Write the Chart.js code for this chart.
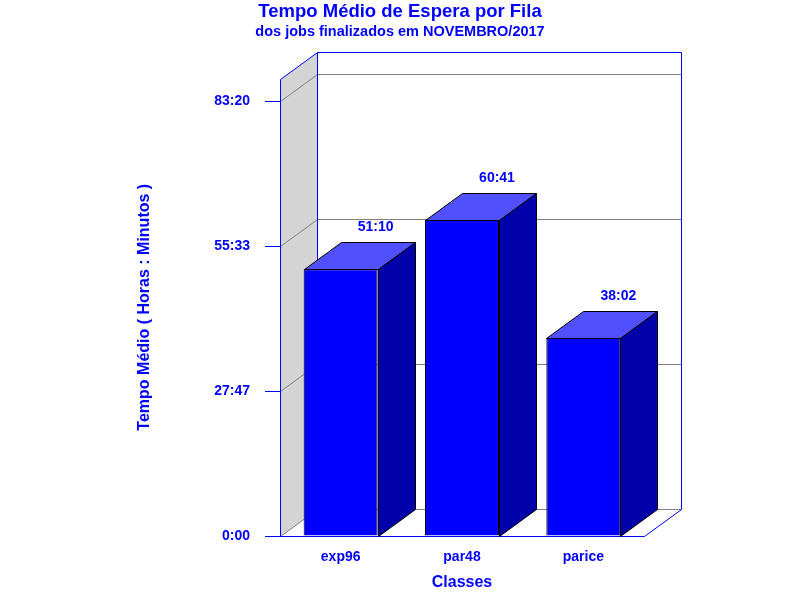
<!DOCTYPE html>
<html lang="pt-BR">
<head>
<meta charset="utf-8">
<title>Tempo Médio de Espera por Fila</title>
<script src="https://cdn.jsdelivr.net/npm/chart.js@4.4.1/dist/chart.umd.min.js"></script>
<style>
    html, body { margin: 0; padding: 0; background: #fff; }
    canvas { display: block; }
</style>
</head>
<body>
<canvas id="filaChart" width="800" height="600"></canvas>
<script>
// Dados do gráfico
const classes = ['exp96', 'par48', 'parice'];
const tempos = ['51:10', '60:41', '38:02'];          // horas:minutos
const yTicks = [0, 5000 / 3, 10000 / 3, 5000];       // minutos
const yMax = 5264;                                   // topo do eixo, minutos

const AZUL = '#0000FF';
const DX = 37, DY = -27;   // profundidade 3D

function toMinutes(hm) {
    const [h, m] = hm.split(':').map(Number);
    return h * 60 + m;
}

function toHoursMinutes(min) {
    const total = Math.round(min);
    return Math.floor(total / 60) + ':' + String(total % 60).padStart(2, '0');
}

function face(ctx, pts, fill) {
    ctx.beginPath();
    ctx.moveTo(pts[0][0], pts[0][1]);
    pts.slice(1).forEach(p => ctx.lineTo(p[0], p[1]));
    ctx.closePath();
    ctx.fillStyle = fill;
    ctx.fill();
    ctx.stroke();
}

// Paredes, grade e faces laterais das barras
const box3d = {
    id: 'box3d',
    beforeDatasetsDraw(chart) {
        const {ctx, chartArea, scales: {y}} = chart;
        const L = Math.round(chartArea.left) + 0.5, R = Math.round(chartArea.right) + 0.5;
        const T = Math.round(chartArea.top) + 0.5, B = Math.round(chartArea.bottom) + 0.5;
        ctx.save();
        ctx.lineWidth = 1;

        // parede esquerda
        ctx.fillStyle = '#D4D4D4';
        ctx.beginPath();
        ctx.moveTo(L, B); ctx.lineTo(L, T); ctx.lineTo(L + DX, T + DY); ctx.lineTo(L + DX, B + DY);
        ctx.closePath();
        ctx.fill();

        // linhas de grade no fundo
        ctx.strokeStyle = '#808080';
        yTicks.forEach(v => {
            const py = Math.round(y.getPixelForValue(v)) + 0.5;
            ctx.beginPath();
            ctx.moveTo(L, py);
            ctx.lineTo(L + DX, py + DY);
            ctx.lineTo(R + DX, py + DY);
            ctx.stroke();
        });

        // moldura azul
        ctx.strokeStyle = AZUL;
        ctx.beginPath();
        ctx.moveTo(L, B); ctx.lineTo(L, T); ctx.lineTo(L + DX, T + DY);
        ctx.lineTo(R + DX, T + DY); ctx.lineTo(R + DX, B + DY); ctx.lineTo(R, B); ctx.lineTo(L - 15, B);
        ctx.moveTo(L + DX, T + DY); ctx.lineTo(L + DX, B + DY);
        ctx.stroke();
        ctx.restore();
    },
    afterDatasetsDraw(chart) {
        const {ctx} = chart;
        const meta = chart.getDatasetMeta(0);
        ctx.save();
        ctx.strokeStyle = '#000';
        ctx.lineWidth = 1;
        meta.data.forEach((bar, i) => {
            const {x, y, width, base} = bar.getProps(['x', 'y', 'width', 'base'], true);
            const l = Math.round(x - width / 2) + 0.5, r = Math.round(x + width / 2) + 0.5;
            const t = Math.round(y) + 0.5, b = Math.round(base) + 0.5;
            face(ctx, [[l, t], [l + DX, t + DY], [r + DX, t + DY], [r, t]], '#5050FF');
            face(ctx, [[r, t], [r + DX, t + DY], [r + DX, b + DY], [r, b]], '#0000AA');

            ctx.fillStyle = AZUL;
            ctx.font = 'bold 14px "Liberation Sans", Arial, sans-serif';
            ctx.textAlign = 'center';
            ctx.textBaseline = 'middle';
            ctx.fillText(tempos[i], x + DX - 2, t + DY - 15);
        });
        ctx.restore();
    }
};

Chart.defaults.font.family = '"Liberation Sans", Arial, sans-serif';
Chart.defaults.color = AZUL;

const ctx = document.getElementById('filaChart').getContext('2d');
new Chart(ctx, {
    type: 'bar',
    data: {
        labels: classes,
        datasets: [{
            data: tempos.map(toMinutes),
            backgroundColor: AZUL,
            borderColor: '#000',
            borderWidth: 1,
            barPercentage: 0.61,
            categoryPercentage: 1
        }]
    },
    options: {
        responsive: false,
        animation: false,
        layout: { padding: 0 },
        plugins: {
            legend: { display: false },
            tooltip: { enabled: false },
            title: {
                display: true,
                text: 'Tempo Médio de Espera por Fila',
                color: AZUL,
                font: { size: 18.5, weight: 'bold', lineHeight: 1.2 },
                padding: { top: 1, bottom: 0 }
            },
            subtitle: {
                display: true,
                text: 'dos jobs finalizados em NOVEMBRO/2017',
                color: AZUL,
                font: { size: 14.5, weight: 'bold', lineHeight: 1.2 },
                padding: { top: 0, bottom: 37.9 }
            }
        },
        scales: {
            x: {
                grid: { display: false, drawTicks: false },
                border: { display: false },
                ticks: { color: AZUL, font: { size: 14, weight: 'bold' }, padding: 13 },
                title: {
                    display: true,
                    text: 'Classes',
                    color: AZUL,
                    font: { size: 16, weight: 'bold' },
                    padding: { top: 0, bottom: 8 }
                },
                afterFit(scale) { scale.height = 64; }
            },
            y: {
                min: 0,
                max: yMax,
                afterBuildTicks(scale) { scale.ticks = yTicks.map(v => ({ value: v })); },
                grid: { drawOnChartArea: false, color: AZUL, tickColor: AZUL, tickLength: 15 },
                border: { display: false },
                ticks: {
                    color: AZUL,
                    font: { size: 14, weight: 'bold' },
                    padding: 15,
                    callback: v => toHoursMinutes(v)
                },
                title: {
                    display: true,
                    text: 'Tempo Médio ( Horas : Minutos )',
                    color: AZUL,
                    font: { size: 16, weight: 'bold' },
                    padding: { top: 135, bottom: 0 }
                },
                afterFit(scale) { scale.width = 280; }
            },
            // eixo vazio à direita, só para reservar espaço
            direita: {
                type: 'linear',
                position: 'right',
                grid: { display: false },
                border: { display: false },
                ticks: { display: false },
                afterFit(scale) { scale.width = 156; }
            }
        }
    },
    plugins: [box3d]
});
</script>
</body>
</html>
